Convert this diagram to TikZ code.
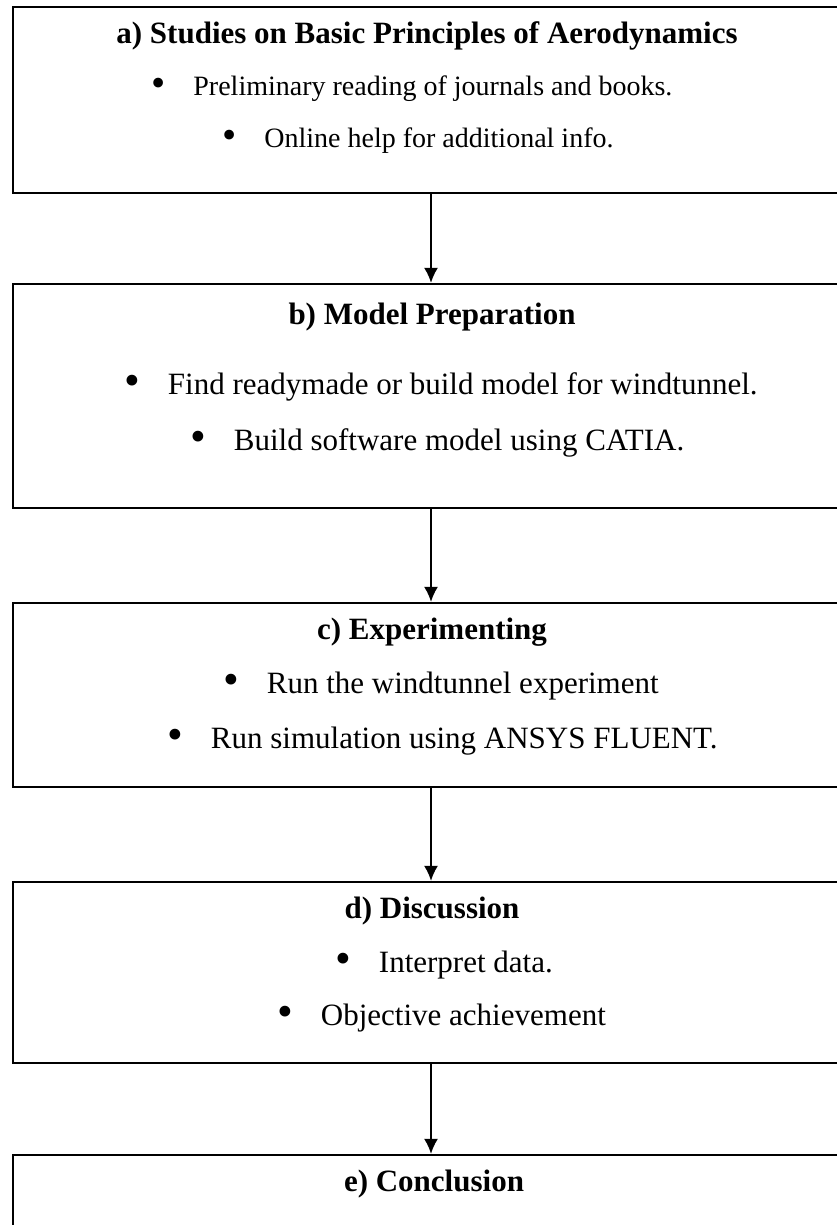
\documentclass[tikz,border=0pt]{standalone}
\usepackage{fontspec}
\setmainfont{Liberation Serif}
\usetikzlibrary{arrows.meta}
\newcommand{\itm}{\raisebox{-1.5pt}{\scalebox{1.45}{\textbullet}}\hspace{28pt}}

\begin{document}
\begin{tikzpicture}[x=1pt,y=-1pt]
  \tikzset{stage/.style = {draw,line width=2.2pt,minimum width=836pt,inner sep=0pt}}
  \tikzset{head/.style = {anchor=mid,inner sep=0pt,font=\fontsize{31}{36}\selectfont\bfseries}}
  \tikzset{item/.style = {anchor=mid west,inner sep=0pt,font=\fontsize{31}{36}\selectfont}}
  \tikzset{edge/.style = {-{Latex[length=15pt,width=14pt]},line width=2pt}}

  \useasboundingbox (0,0) rectangle (837,1225);

	\node[stage,minimum height=186pt] (a) at (431,100) {};
		\node[head] (a0) at (427,41) {a) Studies on Basic Principles of Aerodynamics};
		\node[item,font=\fontsize{28}{32}\selectfont] (a1) at (151,93) {\itm Preliminary reading of journals and books.};
		\node[item,font=\fontsize{28}{32}\selectfont] (a2) at (222,145) {\itm Online help for additional info.};

	\node[stage,minimum height=224pt] (b) at (431,396) {};
		\node[head] (b0) at (432,322) {b) Model Preparation};
		\node[item] (b1) at (124,392) {\itm Find readymade or build model for windtunnel.};
		\node[item] (b2) at (190,448) {\itm Build software model using CATIA.};

	\node[stage,minimum height=184pt] (c) at (431,695) {};
		\node[head] (c0) at (432,637) {c) Experimenting};
		\node[item] (c1) at (223,691) {\itm Run the windtunnel experiment};
		\node[item] (c2) at (167,746) {\itm Run simulation using ANSYS FLUENT.};

	\node[stage,minimum height=181pt] (d) at (431,972.5) {};
		\node[head] (d0) at (432,916) {d) Discussion};
		\node[item] (d1) at (335,970) {\itm Interpret data.};
		\node[item] (d2) at (277,1023) {\itm Objective achievement};

	\node[stage,minimum height=170pt] (e) at (431,1240) {};
		\node[head] (e0) at (434,1189) {e) Conclusion};

    \foreach \from/\to in {a/b,b/c,c/d,d/e}
    \draw[edge] (\from) -- (\to);

\end{tikzpicture}
\end{document}
